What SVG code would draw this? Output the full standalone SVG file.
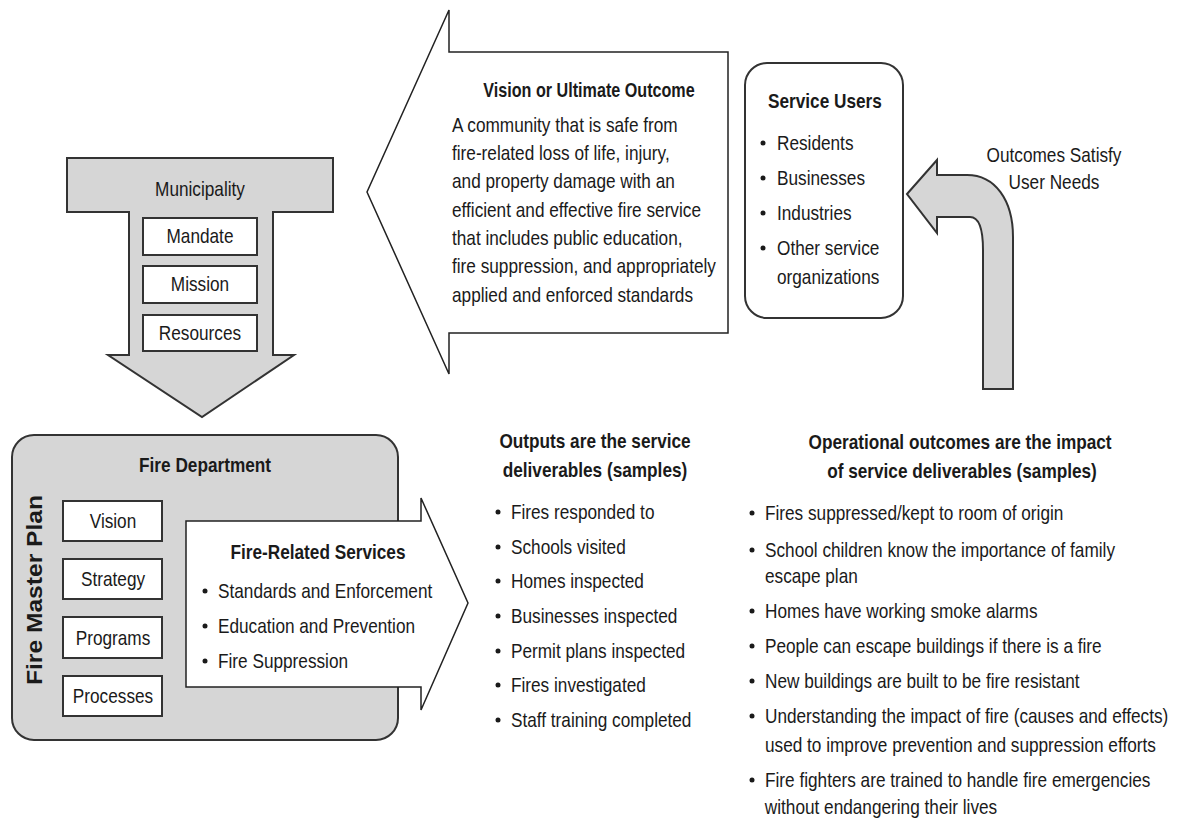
<svg xmlns="http://www.w3.org/2000/svg" width="1183" height="820" viewBox="0 0 1183 820">
<style>
text{font-family:"Liberation Sans",Arial,sans-serif;font-size:21px;fill:#1a1a1a;transform-box:fill-box;transform-origin:0 50%;transform:scaleX(0.82)}
text.m{text-anchor:middle;transform-origin:50% 50%}
.b{font-weight:bold}
text.rot{transform:none}
.gray{fill:#d6d6d6;stroke:#333;stroke-width:2}
.white{fill:#fff;stroke:#333;stroke-width:2}
.thin{fill:#fff;stroke:#222;stroke-width:1.5}
.dot{fill:#1a1a1a}
</style>
<rect width="1183" height="820" fill="#fff"/>

<g id="municipality">
<path class="gray" d="M67,158 L333,158 L333,212 L273,212 L273,355 L294,355 L202,417 L108,355 L129,355 L129,212 L67,212 Z"/>
<text class="m" x="200" y="196">Municipality</text>
<rect class="white" x="143" y="218" width="114" height="37"/>
<text class="m" x="200" y="243">Mandate</text>
<rect class="white" x="143" y="266" width="114" height="37"/>
<text class="m" x="200" y="291">Mission</text>
<rect class="white" x="143" y="315" width="114" height="36"/>
<text class="m" x="200" y="340">Resources</text>
</g>

<g id="vision">
<path class="thin" d="M449,10 L449,52 L728,52 L728,333 L449,333 L449,374 L367,192 Z"/>
<text class="b m" x="589" y="97" style="font-size:19.7px">Vision or Ultimate Outcome</text>
<text x="452" y="132">A community that is safe from</text>
<text x="452" y="160">fire-related loss of life, injury,</text>
<text x="452" y="188">and property damage with an</text>
<text x="452" y="217">efficient and effective fire service</text>
<text x="452" y="245">that includes public education,</text>
<text x="452" y="273">fire suppression, and appropriately</text>
<text x="452" y="302">applied and enforced standards</text>
</g>

<g id="service-users">
<rect class="white" x="745" y="63" width="158" height="255" rx="22"/>
<text class="b" x="768" y="108">Service Users</text>
<circle class="dot" cx="763" cy="143" r="2.5"/>
<text x="777" y="150">Residents</text>
<circle class="dot" cx="763" cy="178" r="2.5"/>
<text x="777" y="185">Businesses</text>
<circle class="dot" cx="763" cy="213" r="2.5"/>
<text x="777" y="220">Industries</text>
<circle class="dot" cx="763" cy="248" r="2.5"/>
<text x="777" y="255">Other service</text>
<text x="777" y="284">organizations</text>
</g>

<g id="connectors">
<path class="gray" d="M907,194 L937,160 L937,175 L967,175 C995,175 1013,200 1013,237 L1013,389 L983,389 L983,250 C983,230 980,217 970,217 L937,217 L937,233 Z"/>
<text class="m" x="1054" y="162">Outcomes Satisfy</text>
<text class="m" x="1054" y="189">User Needs</text>
</g>

<g id="fire-department">
<rect class="gray" x="12" y="435" width="386" height="305" rx="22"/>
<text class="b m" x="205" y="472">Fire Department</text>
<g transform="translate(42,590) rotate(-90)">
<text class="b rot" text-anchor="middle" x="0" y="0" style="font-size:22px" textLength="190" lengthAdjust="spacingAndGlyphs">Fire Master Plan</text>
</g>
<rect class="white" x="63" y="501" width="99" height="40"/>
<text class="m" x="113" y="528">Vision</text>
<rect class="white" x="63" y="559" width="99" height="40"/>
<text class="m" x="113" y="586">Strategy</text>
<rect class="white" x="63" y="617" width="99" height="41"/>
<text class="m" x="113" y="645">Programs</text>
<rect class="white" x="63" y="676" width="99" height="40"/>
<text class="m" x="113" y="703">Processes</text>
</g>

<g id="fire-related-services">
<path class="thin" d="M186,521 L421,521 L421,498 L468,603 L421,710 L421,687 L186,687 Z"/>
<text class="b m" x="318" y="559">Fire-Related Services</text>
<circle class="dot" cx="205" cy="591" r="2.5"/>
<text x="218" y="598">Standards and Enforcement</text>
<circle class="dot" cx="205" cy="626" r="2.5"/>
<text x="218" y="633">Education and Prevention</text>
<circle class="dot" cx="205" cy="661" r="2.5"/>
<text x="218" y="668">Fire Suppression</text>
</g>

<g id="outputs">
<text class="b m" x="595" y="448">Outputs are the service</text>
<text class="b m" x="595" y="477">deliverables (samples)</text>
<circle class="dot" cx="498" cy="512" r="2.5"/>
<text x="511" y="519">Fires responded to</text>
<circle class="dot" cx="498" cy="547" r="2.5"/>
<text x="511" y="554">Schools visited</text>
<circle class="dot" cx="498" cy="581" r="2.5"/>
<text x="511" y="588">Homes inspected</text>
<circle class="dot" cx="498" cy="616" r="2.5"/>
<text x="511" y="623">Businesses inspected</text>
<circle class="dot" cx="498" cy="651" r="2.5"/>
<text x="511" y="658">Permit plans inspected</text>
<circle class="dot" cx="498" cy="685" r="2.5"/>
<text x="511" y="692">Fires investigated</text>
<circle class="dot" cx="498" cy="720" r="2.5"/>
<text x="511" y="727">Staff training completed</text>
</g>

<g id="operational-outcomes">
<text class="b m" x="960" y="449">Operational outcomes are the impact</text>
<text class="b m" x="962" y="478">of service deliverables (samples)</text>
<circle class="dot" cx="752" cy="513" r="2.5"/>
<text x="765" y="520">Fires suppressed/kept to room of origin</text>
<circle class="dot" cx="752" cy="550" r="2.5"/>
<text x="765" y="557">School children know the importance of family</text>
<text x="765" y="583">escape plan</text>
<circle class="dot" cx="752" cy="611" r="2.5"/>
<text x="765" y="618">Homes have working smoke alarms</text>
<circle class="dot" cx="752" cy="646" r="2.5"/>
<text x="765" y="653">People can escape buildings if there is a fire</text>
<circle class="dot" cx="752" cy="681" r="2.5"/>
<text x="765" y="688">New buildings are built to be fire resistant</text>
<circle class="dot" cx="752" cy="716" r="2.5"/>
<text x="765" y="723">Understanding the impact of fire (causes and effects)</text>
<text x="765" y="752">used to improve prevention and suppression efforts</text>
<circle class="dot" cx="752" cy="780" r="2.5"/>
<text x="765" y="787">Fire fighters are trained to handle fire emergencies</text>
<text x="765" y="814">without endangering their lives</text>
</g>
</svg>
